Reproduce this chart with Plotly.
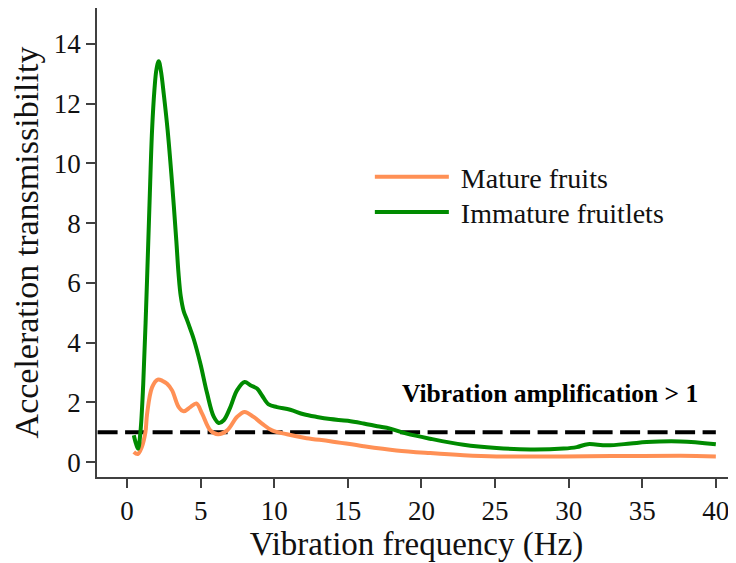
import plotly.graph_objects as go

# Immature fruitlets (green)
freq_immature = [0.46, 0.62, 0.75, 0.91, 1.1, 1.36, 1.55, 1.70, 1.86, 2.0, 2.15, 2.3, 2.5, 2.76, 3.05,
                 3.35, 3.5, 3.65, 3.85, 4.08, 4.3, 4.53, 4.98, 5.44, 5.89, 6.23, 6.57, 7.02, 7.47,
                 7.99, 8.38, 8.83, 9.17, 9.62, 10.19, 11.09, 12.0, 12.9, 13.8, 15.0, 16.07, 17.0,
                 17.88, 19.0, 20.6, 22.86, 25.1, 27.4, 29.65, 30.55, 31.3, 32.6, 34.2, 35.3, 37.6, 40.0]
trans_immature = [0.90, 0.60, 0.45, 1.0, 2.6, 6.1, 9.0, 11.1, 12.45, 13.15, 13.42, 13.1, 12.3, 11.1, 9.4,
                  7.4, 6.3, 5.55, 5.05, 4.75, 4.45, 4.12, 3.3, 2.3, 1.52, 1.31, 1.40, 1.84, 2.40,
                  2.68, 2.57, 2.46, 2.23, 1.93, 1.84, 1.75, 1.60, 1.51, 1.44, 1.38, 1.29, 1.20,
                  1.12, 0.95, 0.78, 0.58, 0.47, 0.42, 0.45, 0.50, 0.60, 0.56, 0.62, 0.67, 0.69, 0.60]

# Mature fruits (orange)
freq_mature = [0.46, 0.73, 1.0, 1.25, 1.36, 1.70, 2.09, 2.4, 2.72, 3.06, 3.51, 3.85, 4.30, 4.71, 5.10,
               5.66, 6.18, 6.80, 7.47, 7.99, 8.60, 9.17, 9.85, 10.87, 12.2, 13.8, 16.07, 18.3, 20.6,
               22.86, 25.1, 29.65, 32.9, 37.6, 40.0]
trans_mature = [0.34, 0.27, 0.50, 1.0, 1.6, 2.5, 2.76, 2.72, 2.62, 2.40, 1.84, 1.70, 1.84, 1.96, 1.62,
                1.06, 0.93, 1.06, 1.51, 1.68, 1.51, 1.29, 1.06, 0.93, 0.80, 0.70, 0.53, 0.39, 0.30,
                0.23, 0.19, 0.19, 0.20, 0.21, 0.19]

threshold_x = [-2, 40]
threshold_y = [1, 1]

x_ticks = [0, 5, 10, 15, 20, 25, 30, 35, 40]
y_ticks = [0, 2, 4, 6, 8, 10, 12, 14]

FONT = "Liberation Serif"
NB = "\u00a0"

fig = go.Figure()
fig.add_trace(go.Scatter(x=threshold_x, y=threshold_y, mode="lines", showlegend=False,
                         line=dict(color="black", width=4, dash="20px,7.5px"), hoverinfo="skip"))
fig.add_trace(go.Scatter(x=freq_mature, y=trans_mature, mode="lines", name=NB + "Mature fruits",
                         legend="legend",
                         line=dict(color="#FF9055", width=4, shape="spline", smoothing=1.0)))
fig.add_trace(go.Scatter(x=freq_immature, y=trans_immature, mode="lines", name=NB + "Immature fruitlets",
                         legend="legend2",
                         line=dict(color="#008B00", width=4, shape="spline", smoothing=1.0)))

fig.add_annotation(x=28.7, y=2.29, xref="x", yref="y", text="Vibration amplification > 1",
                   showarrow=False, font=dict(family=FONT, size=25.5, color="black", weight="bold"))

axis_common = dict(showgrid=False, zeroline=False, showline=True, linecolor="#404040", linewidth=1.5,
                   ticks="outside", ticklen=9, tickwidth=1.5, tickcolor="#404040", automargin=False,
                   tickfont=dict(family=FONT, size=27, color="#111"))

fig.update_xaxes(range=[-2.04, 41.37], tickvals=x_ticks,
                 title=dict(text="Vibration frequency (Hz)", font=dict(family=FONT, size=33, color="#111"), standoff=6),
                 **axis_common)
fig.update_yaxes(range=[-0.5, 15.2], tickvals=y_ticks,
                 title=dict(text="Acceleration transmissibility", font=dict(family=FONT, size=34, color="#111"), standoff=6),
                 **axis_common)

leg_common = dict(xanchor="left", yanchor="middle", font=dict(family=FONT, size=28, color="#111"),
                  bgcolor="rgba(0,0,0,0)", itemwidth=74)
fig.update_layout(
    width=728, height=555,
    margin=dict(l=89, r=0, t=0, b=86.3, autoexpand=False),
    plot_bgcolor="white", paper_bgcolor="white",
    legend=dict(x=0.427, y=0.6395, **leg_common),
    legend2=dict(x=0.427, y=0.5643, **leg_common),
    showlegend=True,
)

fig.write_html("out.html")
